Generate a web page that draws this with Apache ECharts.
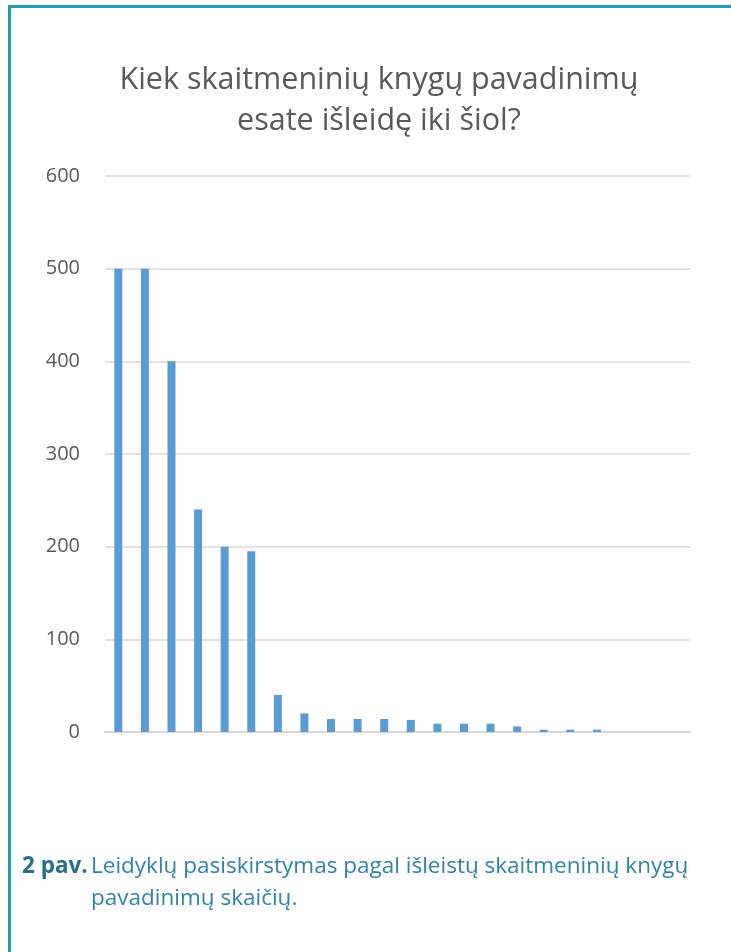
<!DOCTYPE html>
<html>
<head>
<meta charset="utf-8">
<script src="https://cdn.jsdelivr.net/npm/echarts@6/dist/echarts.min.js"></script>
<style>
html,body{margin:0;padding:0;background:#fff;}
#c{width:731px;height:952px;}
</style>
</head>
<body>
<div id="c"></div>
<script>
const titleText = "Kiek skaitmeninių knygų pavadinimų\nesate išleidę iki šiol?";
const categories = ["1","2","3","4","5","6","7","8","9","10","11","12","13","14","15","16","17","18","19","20","21","22"];
const values = [500, 500, 400, 240, 200, 195, 40, 20, 14, 14, 14, 13, 9, 9, 9, 6, 2.5, 2.5, 2.5, 0, 0, 0];
const yTicks = [0, 100, 200, 300, 400, 500, 600];
const captionLabel = "2 pav.";
const captionLine1 = "Leidyklų pasiskirstymas pagal išleistų skaitmeninių knygų";
const captionLine2 = "pavadinimų skaičių.";

const chart = echarts.init(document.getElementById('c'), null, {renderer: 'canvas'});
chart.setOption({
  animation: false,
  backgroundColor: '#fff',
  title: {
    text: titleText,
    left: 374,
    top: 55,
    textAlign: 'center',
    textStyle: {
      fontFamily: 'Open Sans',
      fontWeight: 'normal',
      fontSize: 30.5,
      lineHeight: 41,
      color: '#595959'
    }
  },
  grid: {left: 105, right: 41, top: 176, bottom: 220, containLabel: false},
  xAxis: {
    type: 'category',
    data: categories,
    axisLine: {lineStyle: {color: '#d9d9d9', width: 2}},
    axisTick: {show: false},
    axisLabel: {show: false}
  },
  yAxis: {
    type: 'value',
    min: yTicks[0],
    max: yTicks[yTicks.length - 1],
    interval: 100,
    axisLine: {show: false},
    axisTick: {show: false},
    axisLabel: {
      margin: 25,
      fontFamily: 'Open Sans',
      fontSize: 20,
      color: '#595959'
    },
    splitLine: {lineStyle: {color: '#d9d9d9', width: 1.5}}
  },
  series: [{
    type: 'bar',
    data: values,
    barWidth: 8,
    itemStyle: {color: '#5b9bd5'}
  }],
  graphic: [
    {type: 'rect', shape: {x: 8, y: 5, width: 723, height: 3}, style: {fill: '#1e9fad'}},
    {type: 'rect', shape: {x: 8, y: 5, width: 3, height: 947}, style: {fill: '#1e9fad'}},
    {type: 'text', x: 22, y: 855, style: {text: captionLabel, fontFamily: 'Open Sans', fontWeight: 'bold', fontSize: 22.5, fill: '#266f8e'}},
    {type: 'text', x: 91, y: 855, style: {text: captionLine1, fontFamily: 'Open Sans', fontSize: 22.5, fill: '#2f84a8'}},
    {type: 'text', x: 91, y: 887, style: {text: captionLine2, fontFamily: 'Open Sans', fontSize: 22.5, fill: '#2f84a8'}}
  ]
});
</script>
</body>
</html>
